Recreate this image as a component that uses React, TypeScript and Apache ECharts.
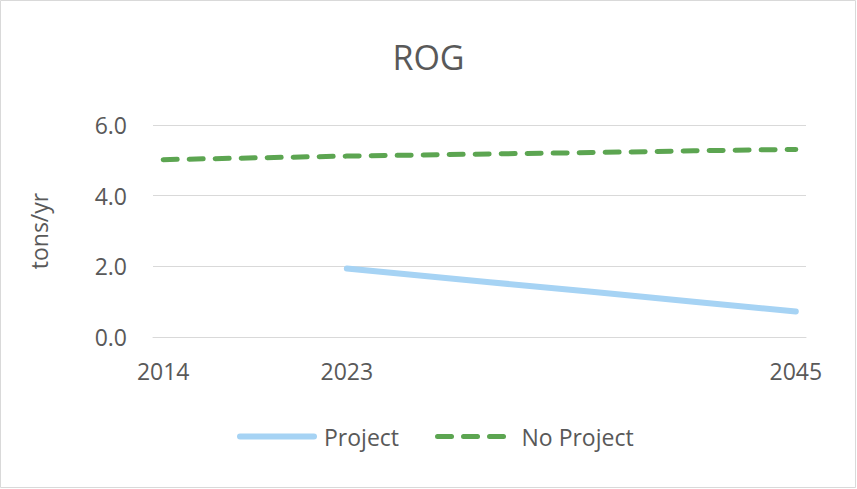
import React, { useEffect, useRef } from "react";
import * as echarts from "echarts";

const titleText = "ROG";
const yAxisName = "tons/yr";
const categories: string[] = Array.from({ length: 32 }, (_, i) => String(2014 + i));
const shownYearLabels = ["2014", "2023", "2045"];
const yTicks = { min: 0, max: 6, interval: 2 };

const projectYears = ["2023", "2030", "2035", "2040", "2045"];
const projectValues = [1.94, 1.55, 1.28, 1.0, 0.72];

const noProjectYears = ["2014", "2023", "2030", "2035", "2040", "2045"];
const noProjectValues = [5.02, 5.12, 5.18, 5.22, 5.27, 5.31];

const seriesNames = ["Project", "No Project"];

const FONT = "'Open Sans', 'Noto Sans', sans-serif";
const TEXT = "#595959";

export default function App() {
  const ref = useRef<HTMLDivElement>(null);
  useEffect(() => {
    document.body.style.margin = "0";
    const chart = echarts.init(ref.current!, null, { renderer: "svg" });
    chart.setOption({
      animation: false,
      backgroundColor: "#ffffff",
      textStyle: { fontFamily: FONT, color: TEXT },
      title: {
        text: titleText,
        left: "center",
        top: 35,
        textStyle: { fontFamily: FONT, fontSize: 34, fontWeight: "normal", color: TEXT },
      },
      graphic: [
        {
          type: "rect",
          shape: { x: 0.5, y: 0.5, width: 855, height: 487 },
          style: { fill: "none", stroke: "#D9D9D9", lineWidth: 1 },
          silent: true,
        },
      ],
      legend: {
        left: 232,
        top: 420,
        itemWidth: 74,
        itemHeight: 14,
        itemGap: 36,
        itemStyle: { opacity: 0 },
        lineStyle: { width: "inherit", type: "inherit", cap: "inherit", color: "inherit" },
        textStyle: { fontFamily: FONT, fontSize: 23, color: TEXT, padding: [0, 0, 0, 5] },
        data: seriesNames,
      },
      grid: { left: 153, right: 51, top: 125, bottom: 152, containLabel: false },
      xAxis: {
        type: "category",
        data: categories,
        boundaryGap: true,
        axisLine: { show: true, lineStyle: { color: "#D9D9D9", width: 1 } },
        axisTick: { show: false },
        axisLabel: {
          interval: (_i: number, v: string) => shownYearLabels.includes(v),
          fontFamily: FONT,
          fontSize: 23,
          color: TEXT,
          margin: 22,
        },
        splitLine: { show: false },
      },
      yAxis: {
        type: "value",
        min: yTicks.min,
        max: yTicks.max,
        interval: yTicks.interval,
        name: yAxisName,
        nameLocation: "middle",
        nameGap: 103,
        nameRotate: 90,
        nameTextStyle: { fontFamily: FONT, fontSize: 23, color: TEXT },
        axisLine: { show: false },
        axisTick: { show: false },
        axisLabel: {
          formatter: (v: number) => v.toFixed(1),
          fontFamily: FONT,
          fontSize: 23,
          color: TEXT,
          margin: 26,
        },
        splitLine: { lineStyle: { color: "#D9D9D9", width: 1 } },
      },
      series: [
        {
          name: seriesNames[0],
          type: "line",
          data: projectYears.map((y, i) => [y, projectValues[i]]),
          symbol: "none",
          showSymbol: false,
          lineStyle: { color: "#A6D3F4", width: 6, cap: "round", join: "round" },
          itemStyle: { color: "#A6D3F4" },
        },
        {
          name: seriesNames[1],
          type: "line",
          data: noProjectYears.map((y, i) => [y, noProjectValues[i]]),
          symbol: "none",
          showSymbol: false,
          lineStyle: { color: "#5CA551", width: 5, type: [14, 12], cap: "round", join: "round" },
          itemStyle: { color: "#5CA551" },
        },
      ],
    });
    return () => chart.dispose();
  }, []);
  return <div ref={ref} style={{ width: 857, height: 489, position: "absolute", left: 0, top: 0 }} />;
}
